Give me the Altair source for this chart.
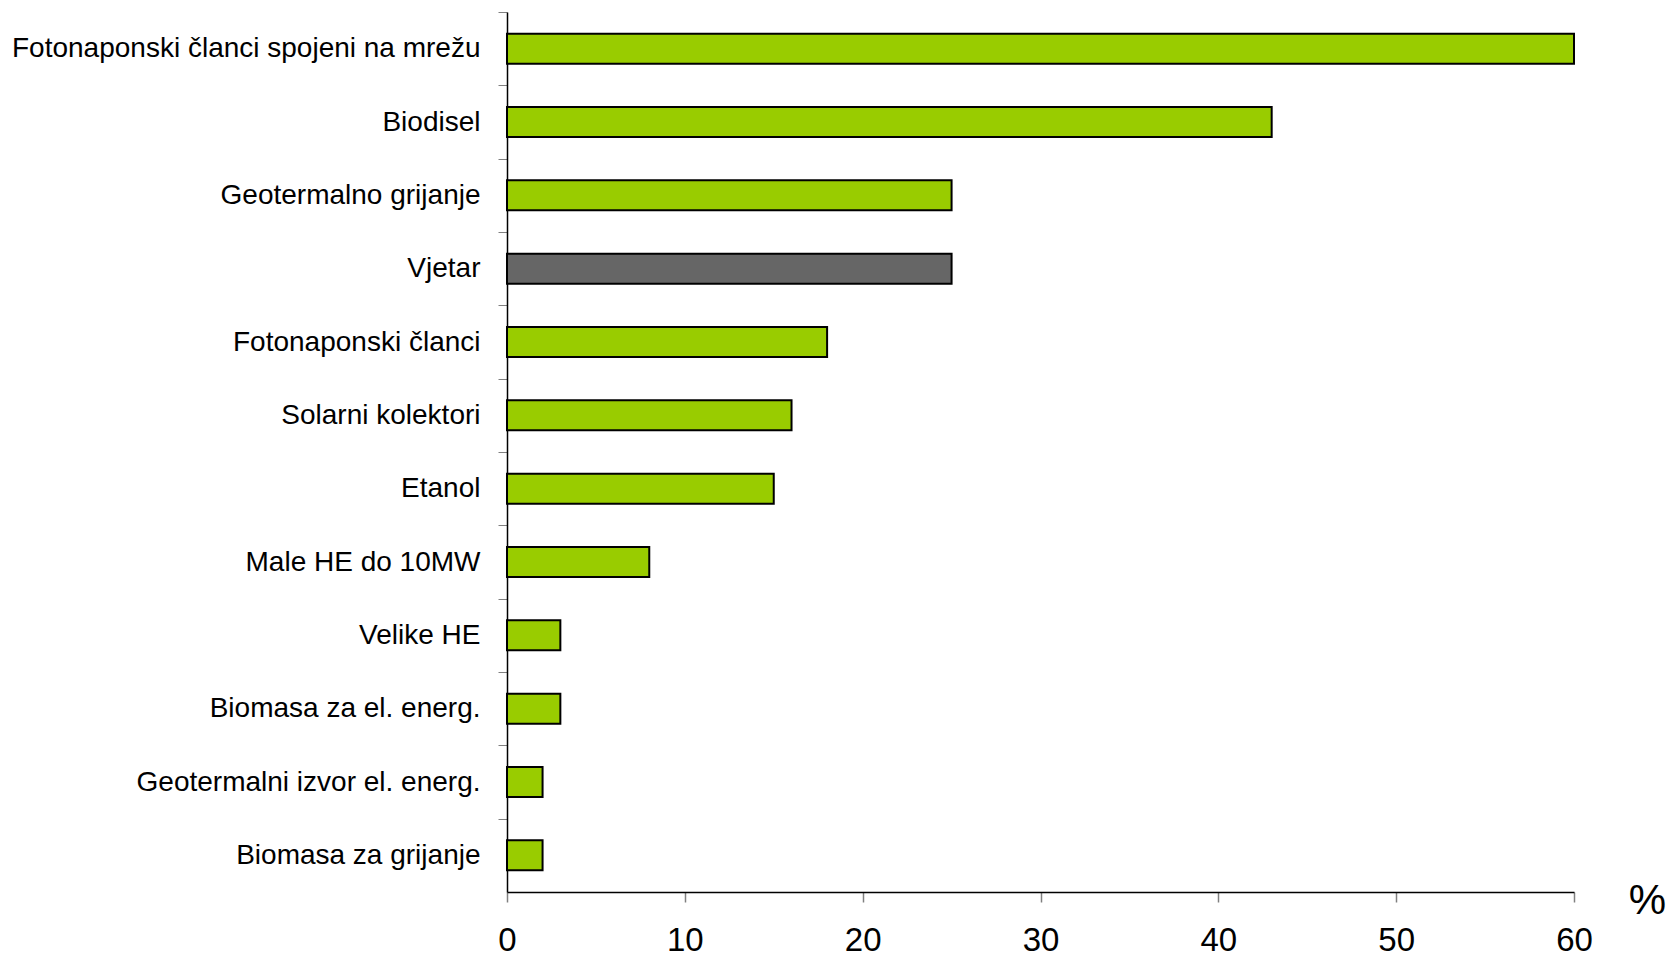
import altair as alt
import pandas as pd

categories = [
    "Fotonaponski članci spojeni na mrežu",
    "Biodisel",
    "Geotermalno grijanje",
    "Vjetar",
    "Fotonaponski članci",
    "Solarni kolektori",
    "Etanol",
    "Male HE do 10MW",
    "Velike HE",
    "Biomasa za el. energ.",
    "Geotermalni izvor el. energ.",
    "Biomasa za grijanje",
]
values = [60, 43, 25, 25, 18, 16, 15, 8, 3, 3, 2, 2]
highlight = ["Vjetar"]

df = pd.DataFrame({"kategorija": categories, "vrijednost": values})
df["grupa"] = ["istaknuto" if c in highlight else "ostalo" for c in categories]

FONT = "Liberation Sans"
H = 880
STEP = H / len(categories)

chart = alt.Chart(df).mark_bar(stroke="black", strokeWidth=2).encode(
    y=alt.Y(
        "kategorija:N",
        sort=categories,
        title=None,
        scale=alt.Scale(paddingInner=0.59, paddingOuter=0.295),
        axis=alt.Axis(
            tickOffset=-STEP / 2,
            labelOffset=STEP / 2,
            tickSize=9,
            tickColor="#808080",
            tickWidth=1,
            domainColor="black",
            domainWidth=1.5,
            labelFontSize=28,
            labelFont=FONT,
            labelColor="black",
            labelPadding=18,
            labelLimit=700,
        ),
    ),
    x=alt.X(
        "vrijednost:Q",
        scale=alt.Scale(domain=[0, 60], nice=False),
        axis=alt.Axis(
            values=[0, 10, 20, 30, 40, 50, 60],
            grid=False,
            tickSize=10,
            tickColor="#808080",
            tickWidth=1.5,
            domainColor="black",
            domainWidth=1.5,
            labelFontSize=33,
            labelFont=FONT,
            labelColor="black",
            labelPadding=22,
            labelFlush=False,
            title="%",
            titleFont=FONT,
            titleFontSize=42,
            titleFontWeight="normal",
            titleColor="black",
            titleX=1140,
            titleY=8,
            titleAlign="center",
            titleBaseline="middle",
        ),
    ),
    color=alt.Color(
        "grupa:N",
        scale=alt.Scale(domain=["ostalo", "istaknuto"], range=["#99CC00", "#666666"]),
        legend=None,
    ),
).properties(
    width=1067,
    height=H,
    autosize=alt.AutoSizeParams(type="none"),
    padding={"left": 499, "top": 4, "right": 93, "bottom": 64},
).configure_view(stroke=None)

chart.save("out.html", embed_options={"renderer": "svg", "actions": False})
